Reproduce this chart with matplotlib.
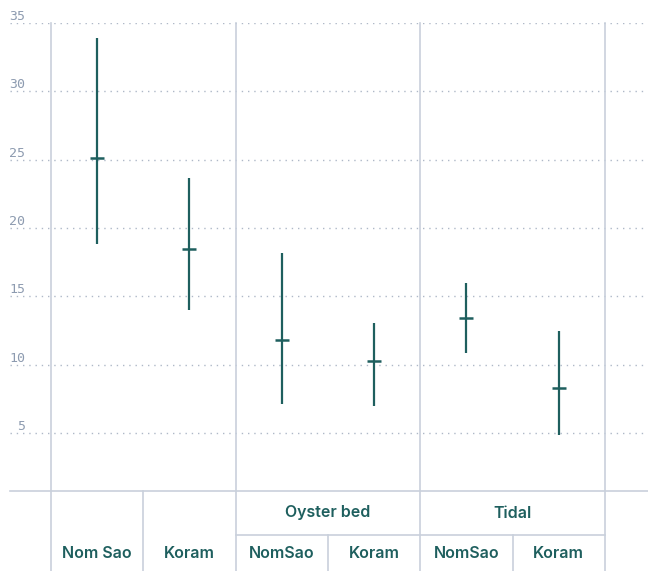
import matplotlib.pyplot as plt
import matplotlib.transforms as mtransforms
import numpy as np

# data
groups = ["", "", "Oyster bed", "Oyster bed", "Tidal", "Tidal"]
labels = ["Nom Sao", "Koram", "NomSao", "Koram", "NomSao", "Koram"]
means = [25.1, 18.45, 11.8, 10.25, 13.4, 8.3]
highs = [33.9, 23.65, 18.15, 13.05, 15.95, 12.45]
lows = [18.8, 14.0, 7.1, 6.95, 10.85, 4.85]
y_ticks = [5, 10, 15, 20, 25, 30, 35]

TEAL = "#1e5f5e"
LINE = "#c9d0dc"
TICK = "#8d9bb0"

W, H = 648, 571
fig = plt.figure(figsize=(W / 100, H / 100), dpi=100)
ax = fig.add_axes([10 / W, (H - 491) / H, 638 / W, 468 / H])

x = np.arange(len(labels))
ax.set_xlim(-0.944, 5.966)
ax.set_ylim(0.76, 35)

# dotted grid + labels above lines
for t in y_ticks:
    ax.axhline(t, color=TICK, lw=1.0, ls=(0, (1, 3.5)), alpha=0.7, zorder=0)
    ax.text(0.0235, t, str(t), transform=ax.get_yaxis_transform(),
            ha="right", va="bottom", fontsize=9.5, color=TICK,
            family="DejaVu Sans Mono")

# error bars
for xi, m, hi, lo in zip(x, means, highs, lows):
    ax.plot([xi, xi], [lo, hi], color=TEAL, lw=1.6, solid_capstyle="butt", zorder=3)
    ax.plot([xi], [m], marker="_", ms=10, mew=1.8, color=TEAL, zorder=4)

for s in ax.spines.values():
    s.set_visible(False)
ax.set_xticks([])
ax.set_yticks([])
ax.axhline(0.76, color=LINE, lw=1.2, clip_on=False)

trans = mtransforms.blended_transform_factory(ax.transData, ax.transAxes)
bottom = -80 / 468
mid = -44 / 468

# group separators (full height)
for b in [-0.5, 1.5, 3.5, 5.5]:
    ax.plot([b, b], [bottom, 1.0], color=LINE, lw=1.2, transform=trans, clip_on=False)

# category separators in the label area
ax.plot([0.5, 0.5], [bottom, 0], color=LINE, lw=1.2, transform=trans, clip_on=False)
for b in [2.5, 4.5]:
    ax.plot([b, b], [bottom, mid], color=LINE, lw=1.2, transform=trans, clip_on=False)
ax.plot([1.5, 5.5], [mid, mid], color=LINE, lw=1.2, transform=trans, clip_on=False)

lab_kw = dict(ha="center", va="center", fontsize=11.5, color=TEAL,
              family="Inter", fontweight="semibold", transform=trans)
for xi, lab in zip(x, labels):
    ax.text(xi, -62 / 468, lab, **lab_kw)

seen = []
for xi, g in zip(x, groups):
    if g and g not in seen:
        seen.append(g)
        idx = [i for i, gg in enumerate(groups) if gg == g]
        ax.text(np.mean(idx), -22 / 468, g, **lab_kw)

fig.savefig("out.png", dpi=100)
